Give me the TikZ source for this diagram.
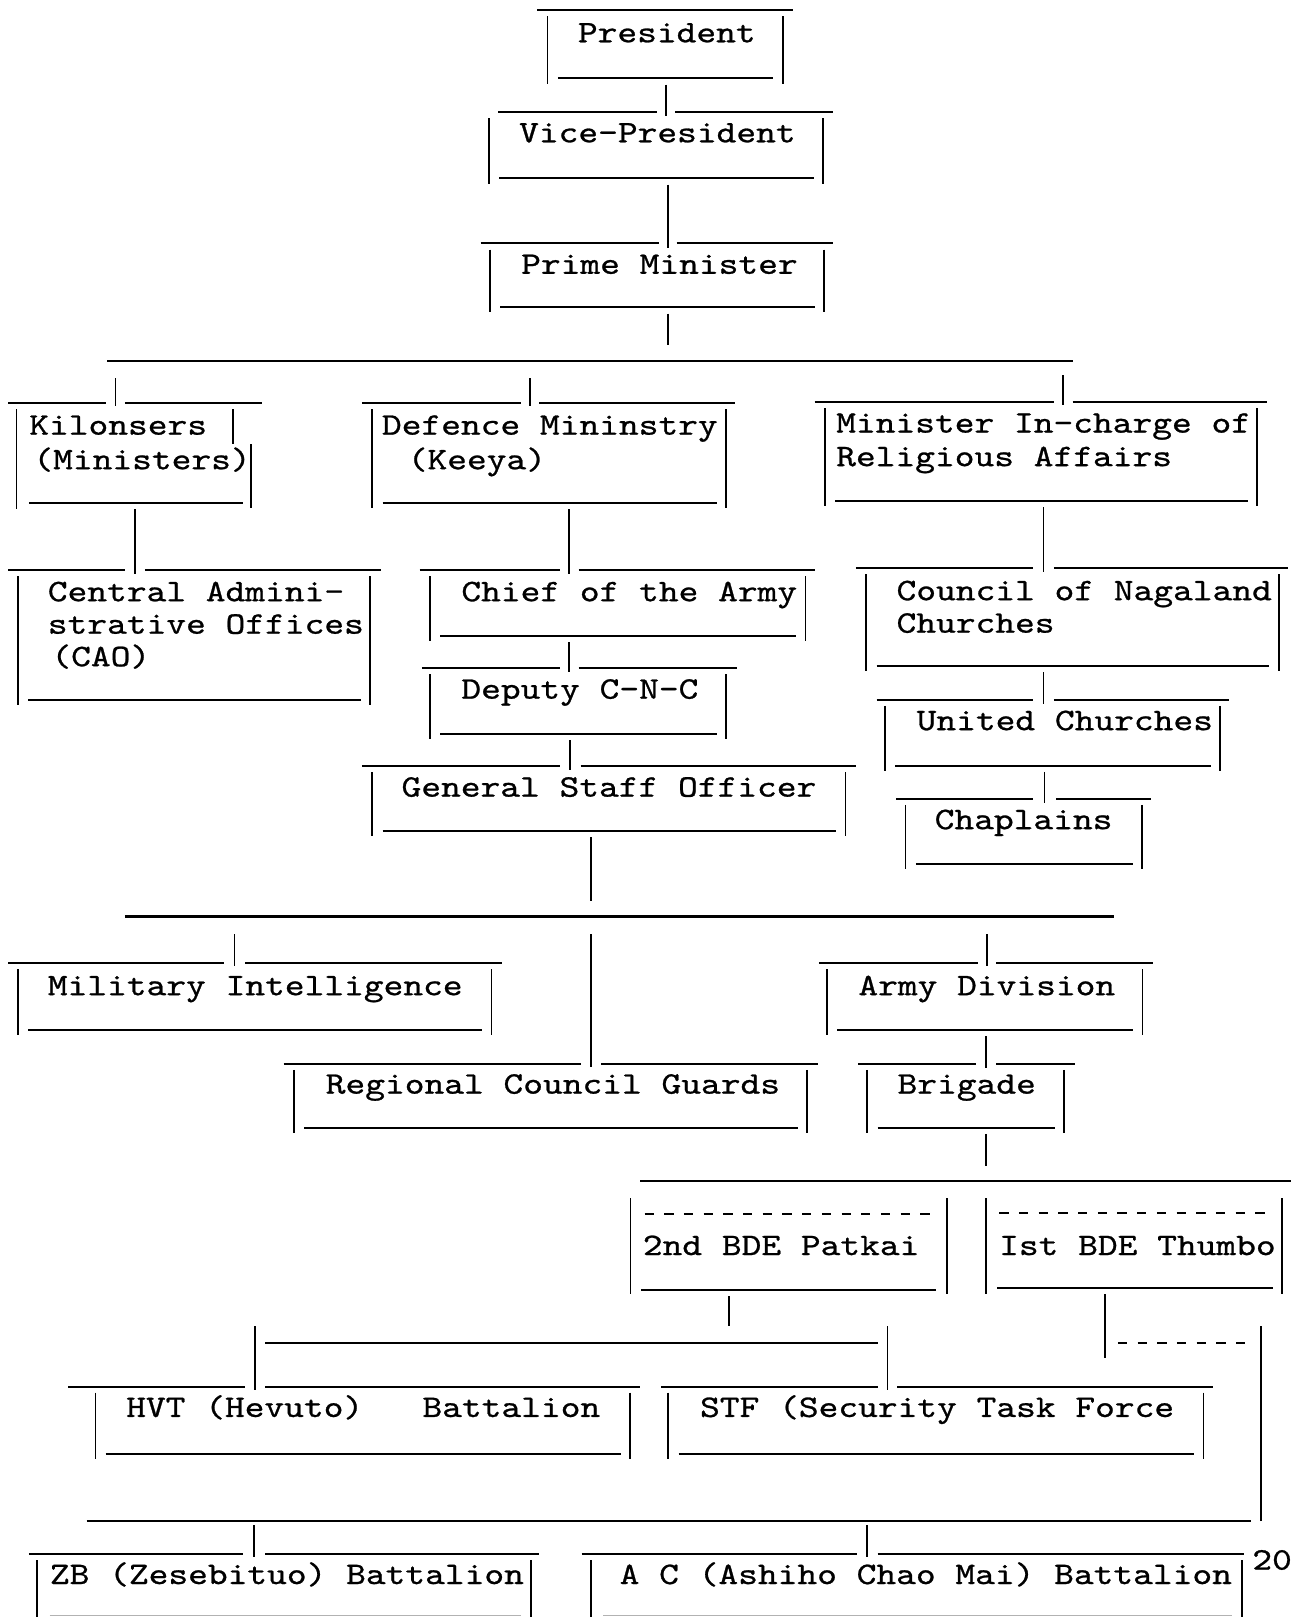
\documentclass[tikz,border=0pt]{standalone}
\usepackage{fontspec}
\newfontfamily\tw{lmmono10-regular.otf}[FakeStretch=1.2,FakeBold=0.8]
\usetikzlibrary{calc}
\tikzset{
  ln/.style={line width=1pt},
  vl/.style={line width=0.8pt},
  boxnode/.style={inner sep=0pt, outer sep=0pt, draw=none},
  lbl/.style={anchor=base west, inner sep=0pt, font=\tw\fontsize{15.2}{16}\selectfont},
  dsh/.style={line width=1pt, dash pattern=on 4.5pt off 5.05pt},
}
% name, topL, gapL, gapR, topR, topY, sideL, sideR, botY
\newcommand\tbox[9]{%
  \node[boxnode, anchor=north west, minimum width={(#8-#7)*0.5pt}, minimum height={(#9-#6)*0.5pt}] (#1) at (#7,#6) {};
  \coordinate (#1-in) at ({(#3+#4)/2},#6);
  \draw[ln] (#2,#6) -- (#3,#6);
  \draw[ln] (#4,#6) -- (#5,#6);
  \draw[vl] (#7,{#6+6}) -- (#7,{#9+5});
  \draw[vl] (#8,{#6+6}) -- (#8,{#9+5});
  \draw[ln] ({#7+10},#9) -- ({#8-9},#9);
}
\newcommand\conn[2]{\draw[vl] ($(#1.south -| #2-in)+(0,6)$) -- ($(#2-in)+(0,4)$);}
\begin{document}
\begin{tikzpicture}[x=0.5pt,y=-0.5pt]
\useasboundingbox (0,0) rectangle (1252,1568);
% ---- top chain
\tbox{pres}{521}{645}{645}{769}{10}{531}{759}{76}
\tbox{vp}{483}{637}{655}{808}{108.5}{474}{798}{173}
\tbox{pm}{466}{639}{656}{808}{236}{475}{799}{298}
\node[lbl] (t-pres) at (560,41) {President};
\node[lbl] (t-vp) at (503,138) {Vice-President};
\node[lbl] (t-pm) at (505,265.5) {Prime Minister};
\conn{pres}{vp}
\conn{vp}{pm}
% ---- first bus
\coordinate (b1L) at (104,349.7);
\coordinate (b1R) at (1040,349.7);
\draw[vl] ($(pm.south -| pm-in)+(0,6)$) -- ++(0,31);
\draw[ln] (b1L) -- (b1R);
% Kilonsers (irregular right side)
\node[boxnode, anchor=north west, minimum width={(243.5-16)*0.5pt}, minimum height={(488-391)*0.5pt}] (kil) at (16,391) {};
\coordinate (kil-in) at (112,391);
\draw[ln] (8,391) -- (103,391);
\draw[ln] (121,391) -- (254,391);
\draw[vl] (16,397) -- (16,493.5);
\draw[vl] (226,397) -- (226,431);
\draw[vl] (243.5,431) -- (243.5,492.5);
\draw[ln] (28,488) -- (235.5,488);
\node[lbl] (t-kil1) at (28,421.5) {Kilonsers};
\node[lbl] (t-kil2) at (32,455) {(Ministers)};
\tbox{def}{351}{505}{523}{713}{391}{361}{704}{488}
\node[lbl] (t-def1) at (370,421.5) {Defence Mininstry};
\node[lbl] (t-def2) at (395,455) {(Keeya)};
\tbox{rel}{790}{1022}{1040}{1229}{390}{800}{1219}{486}
\node[lbl] (t-rel1) at (810.5,419.5) {Minister In-charge of};
\node[lbl] (t-rel2) at (810.5,452) {Religious Affairs};
\draw[vl] ($(kil-in)+(0,-24)$) -- ($(kil-in)+(0,3)$);
\draw[vl] ($(def-in)+(0,-24)$) -- ($(def-in)+(0,3)$);
\draw[vl] ($(rel-in)+(0,-26)$) -- ($(rel-in)+(0,3)$);
% ---- second level
\tbox{cao}{8}{121}{140.5}{369}{553}{17.5}{359}{679}
\node[lbl] (t-cao1) at (46,583) {Central Admini-};
\node[lbl] (t-cao2) at (46,614.5) {strative Offices};
\node[lbl] (t-cao3) at (49.5,646) {(CAO)};
\tbox{chief}{407}{543}{561}{790}{553}{417}{781}{617}
\node[lbl] (t-chief) at (447,583) {Chief of the Army};
\tbox{dep}{409}{543}{561}{715}{648}{417}{704}{712}
\node[lbl] (t-dep) at (447,677.5) {Deputy C-N-C};
\tbox{gso}{351}{543}{563}{830}{743}{361}{820}{806}
\node[lbl] (t-gso) at (389,772.5) {General Staff Officer};
\tbox{cnc}{830}{1002}{1022}{1249}{551}{840}{1240}{646}
\node[lbl] (t-cnc1) at (869,582) {Council of Nagaland};
\node[lbl] (t-cnc2) at (869,613.5) {Churches};
\tbox{uc}{850}{1002}{1022}{1192}{678.5}{858}{1183}{742.5}
\node[lbl] (t-uc) at (888.5,708) {United Churches};
\tbox{chap}{869}{1002}{1024}{1116}{774.5}{878}{1107.5}{837.5}
\node[lbl] (t-chap) at (906,804) {Chaplains};
\conn{kil}{cao}
\conn{def}{chief}
\conn{rel}{cnc}
\conn{chief}{dep}
\conn{dep}{gso}
\conn{cnc}{uc}
\conn{uc}{chap}
% ---- second bus
\tbox{mi}{8}{217}{238}{487}{934}{17.5}{476.5}{999}
\node[lbl] (t-mi) at (46,965) {Military Intelligence};
\tbox{ad}{794}{948}{966}{1118}{934}{802}{1108}{999}
\node[lbl] (t-ad) at (832,965) {Army Division};
\tbox{rcg}{275}{563}{583}{793}{1031.5}{285}{782.5}{1093.5}
\node[lbl] (t-rcg) at (315.5,1060.5) {Regional Council Guards};
\tbox{brig}{832}{946}{966}{1042}{1031.5}{841}{1032}{1093.5}
\node[lbl] (t-brig) at (870,1060.5) {Brigade};
\coordinate (b2L) at (121,888.7);
\coordinate (b2R) at (1080,888.7);
\draw[vl] ($(gso.south -| rcg-in)+(0,6)$) -- ++(0,62);
\draw[ln] (b2L) -- (b2R);
\draw[vl] ($(mi-in)+(0,-28)$) -- ($(mi-in)+(0,3)$);
\draw[vl] ($(rcg-in)+(0,-125.5)$) -- ($(rcg-in)+(0,3)$);
\draw[vl] ($(ad-in)+(0,-28)$) -- ($(ad-in)+(0,3)$);
\conn{ad}{brig}
% ---- third bus and brigades
\coordinate (b3L) at (621,1145);
\coordinate (b3R) at (1252,1145);
\draw[vl] ($(brig.south -| brig-in)+(0,6)$) -- ++(0,31);
\draw[ln] (b3L) -- (b3R);
\node[boxnode, anchor=north west, minimum width={(918-611.5)*0.5pt}, minimum height={(1250.5-1162)*0.5pt}] (bde2) at (611.5,1162) {};
\draw[vl] (611.5,1162) -- (611.5,1255);
\draw[vl] (918,1162) -- (918,1255);
\draw[dsh] (625,1177) -- (905,1177);
\draw[ln] (622,1250.5) -- (908,1250.5);
\node[lbl] (t-bde2) at (623,1217) {2nd BDE Patkai};
\node[boxnode, anchor=north west, minimum width={(1243-956)*0.5pt}, minimum height={(1249-1162)*0.5pt}] (bde1) at (956,1162) {};
\draw[vl] (956,1162) -- (956,1255);
\draw[vl] (1243,1162) -- (1243,1255);
\draw[dsh] (969,1176) -- (1230,1176);
\draw[ln] (967,1249) -- (1234,1249);
\node[lbl] (t-bde1) at (968.5,1217) {Ist BDE Thumbo};
% ---- battalions under 2nd BDE
\tbox{hvt}{66}{238}{257}{621}{1344.5}{92.5}{611}{1409.5}
\node[lbl] (t-hvt) at (122,1374) {HVT (Hevuto)\ \ \ Battalion};
\tbox{stf}{641}{851}{870}{1176}{1344.5}{648}{1167}{1409.5}
\node[lbl] (t-stf) at (678.5,1374) {STF (Security Task Force};
\draw[vl] ($(bde2.south west)+(95.5,6.5)$) -- ++(0,29);
\draw[vl] ($(hvt-in)+(0,-58.5)$) -- ($(hvt-in)+(0,3.5)$);
\draw[vl] ($(stf-in)+(0,-58.5)$) -- ($(stf-in)+(0,3.5)$);
\draw[ln] ($(hvt-in)+(9.5,-42.5)$) -- ($(stf-in)+(-9.5,-42.5)$);
% ---- link from 1st BDE
\coordinate (b5L) at (84,1475);
\coordinate (b5R) at (1223,1475);
\draw[vl] ($(bde1.south west)+(115.5,6)$) -- ++(0,62);
\draw[dsh] ($(bde1.south west)+(128,53)$) -- ++(128,0);
\draw[vl] (b5R) -- ++(0,-189);
\draw[ln] (b5L) -- ($(b5R)+(-10,0)$);
% ---- bottom battalions
\node[boxnode, anchor=north west, minimum width={(515-36)*0.5pt}, minimum height={(1566-1507)*0.5pt}] (zb) at (36,1507) {};
\coordinate (zb-in) at (246.5,1507);
\draw[ln] (28,1507) -- (236,1507);
\draw[ln] (257,1507) -- (523,1507);
\draw[vl] (36,1513) -- (36,1568);
\draw[vl] (515,1513) -- (515,1568);
\draw[line width=0.6pt, gray!60] (48,1566.5) -- (505,1566.5);
\node[lbl] (t-zb) at (48,1536) {ZB (Zesebituo) Battalion};
\node[boxnode, anchor=north west, minimum width={(1204.5-573)*0.5pt}, minimum height={(1566-1507)*0.5pt}] (ac) at (573,1507) {};
\coordinate (ac-in) at (841,1507);
\draw[ln] (564,1507) -- (831,1507);
\draw[ln] (851,1507) -- (1206,1507);
\draw[vl] (573,1513) -- (573,1568);
\draw[vl] (1204.5,1513) -- (1204.5,1568);
\draw[line width=0.6pt, gray!60] (585,1566.5) -- (1195,1566.5);
\node[lbl] (t-ac) at (600.5,1536) {A C (Ashiho Chao Mai) Battalion};
\draw[vl] ($(zb-in)+(0,-28)$) -- ($(zb-in)+(0,3)$);
\draw[vl] ($(ac-in)+(0,-28)$) -- ($(ac-in)+(0,3)$);
\node[lbl] (pgno) at (1214,1522) {20};
\end{tikzpicture}
\end{document}
